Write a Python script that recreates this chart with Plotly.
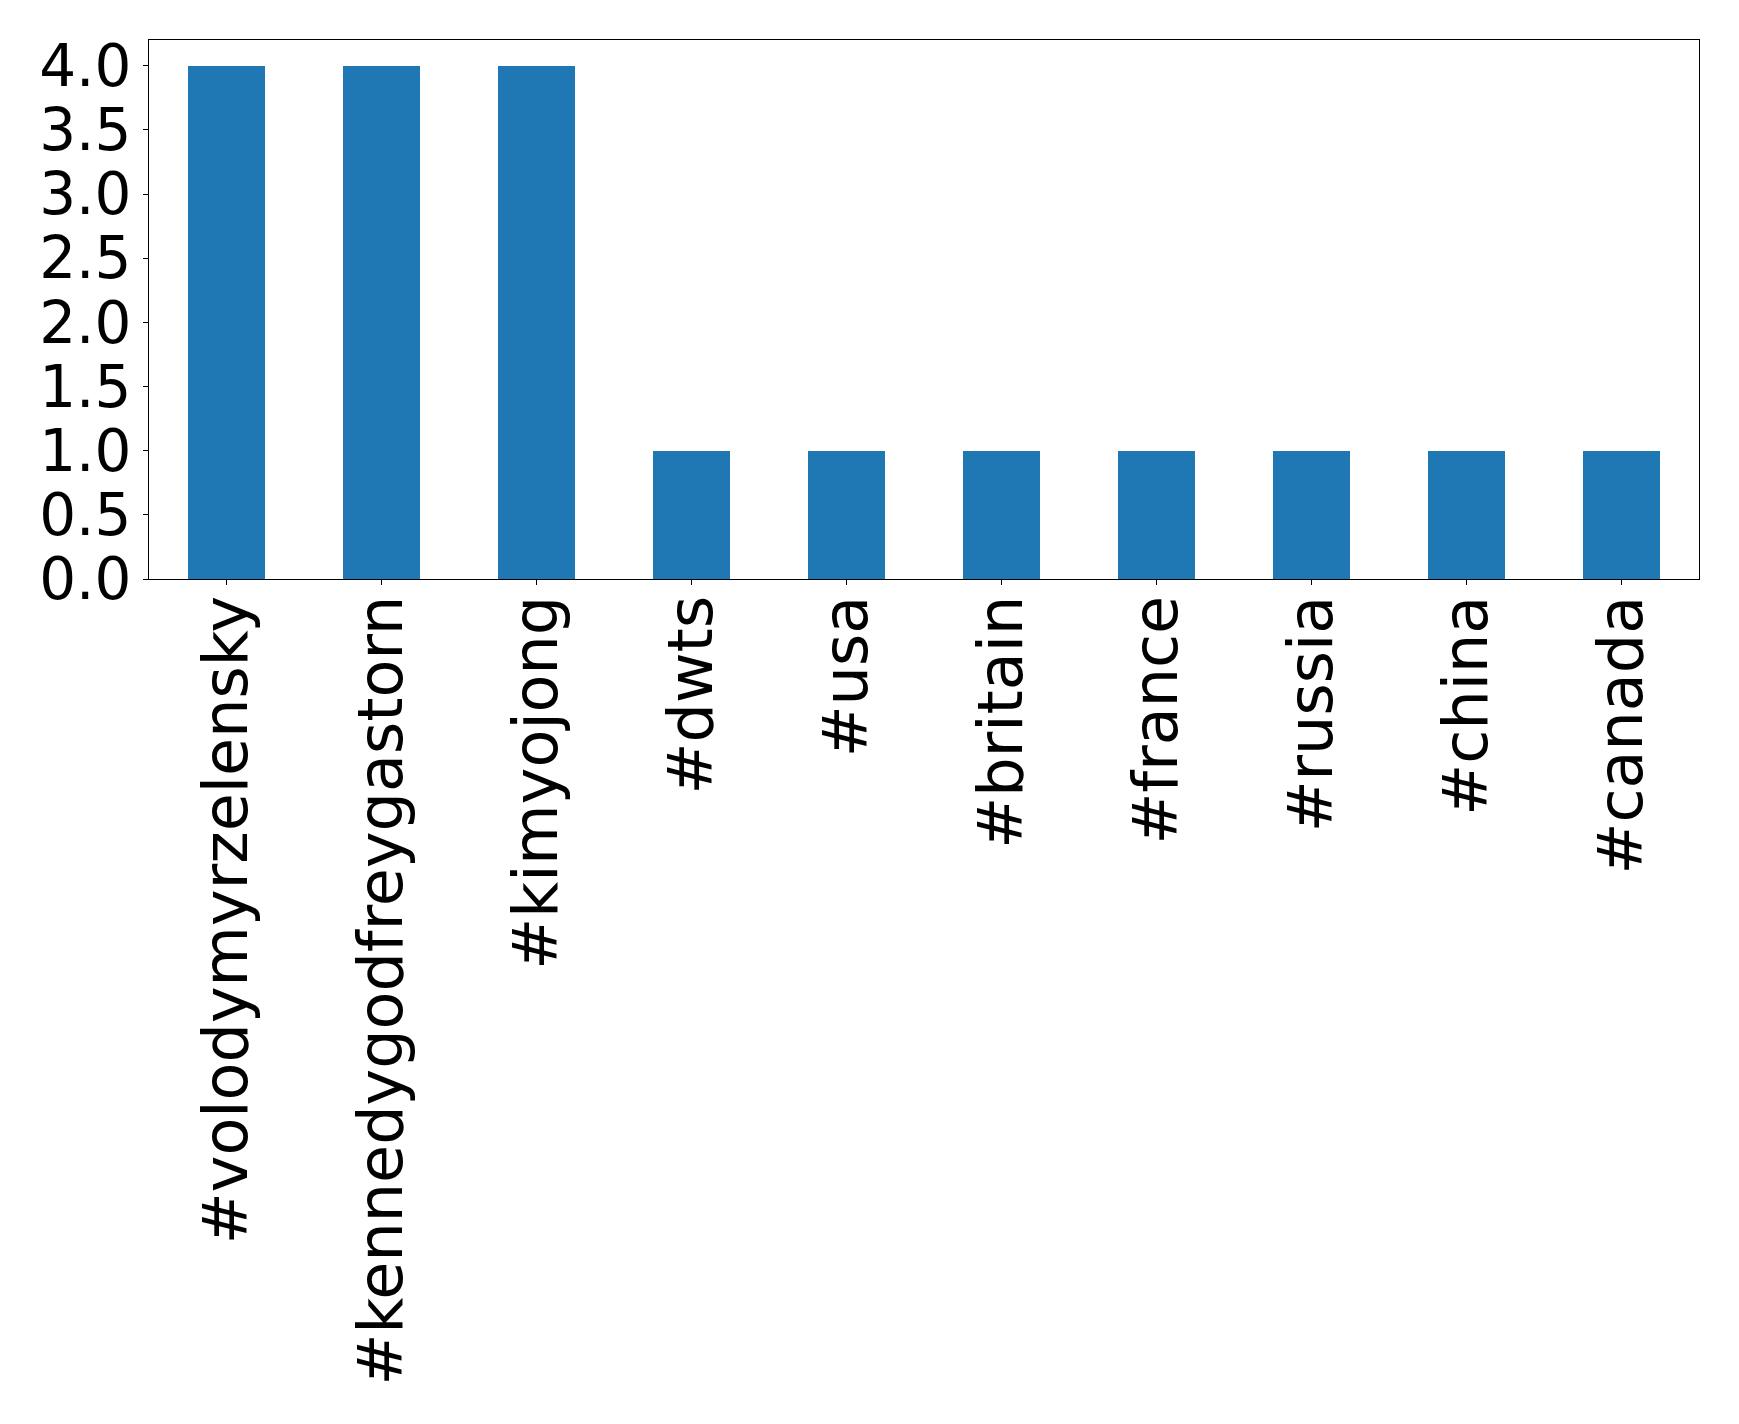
import plotly.graph_objects as go

categories = ["#volodymyrzelensky", "#kennedygodfreygastorn", "#kimyojong", "#dwts",
              "#usa", "#britain", "#france", "#russia", "#china", "#canada"]
counts = [4, 4, 4, 1, 1, 1, 1, 1, 1, 1]
y_ticks = [0.0, 0.5, 1.0, 1.5, 2.0, 2.5, 3.0, 3.5, 4.0]
y_tick_labels = ["0.0", "0.5", "1.0", "1.5", "2.0", "2.5", "3.0", "3.5", "4.0"]

fig = go.Figure(go.Bar(
    x=list(range(len(categories))), y=counts, width=0.5,
    marker=dict(color="#1f77b4", line=dict(width=0)),
))

fig.update_layout(
    width=1723, height=1408,
    margin=dict(l=141, r=32, t=32, b=837, autoexpand=False),
    paper_bgcolor="white", plot_bgcolor="white",
    font=dict(family="DejaVu Sans", size=60, color="black"),
    showlegend=False, bargap=0,
)
fig.update_xaxes(
    range=[-0.5, len(categories) - 0.5],
    tickmode="array", tickvals=list(range(len(categories))), ticktext=categories,
    tickangle=-90, ticks="outside", ticklen=5, tickwidth=1, tickcolor="black",
    ticklabelstandoff=-14,
    showline=True, linecolor="black", linewidth=1, mirror=True,
    showgrid=False, zeroline=False, automargin=False,
    tickfont=dict(family="DejaVu Sans", size=62, color="black"),
)
fig.update_yaxes(
    range=[0, 4.2],
    tickmode="array", tickvals=y_ticks, ticktext=y_tick_labels,
    ticks="outside", ticklen=5, tickwidth=1, tickcolor="black",
    showline=True, linecolor="black", linewidth=1, mirror=True,
    showgrid=False, zeroline=False, automargin=False,
    tickfont=dict(family="DejaVu Sans", size=58, color="black"),
)

fig.write_html("out.html")
